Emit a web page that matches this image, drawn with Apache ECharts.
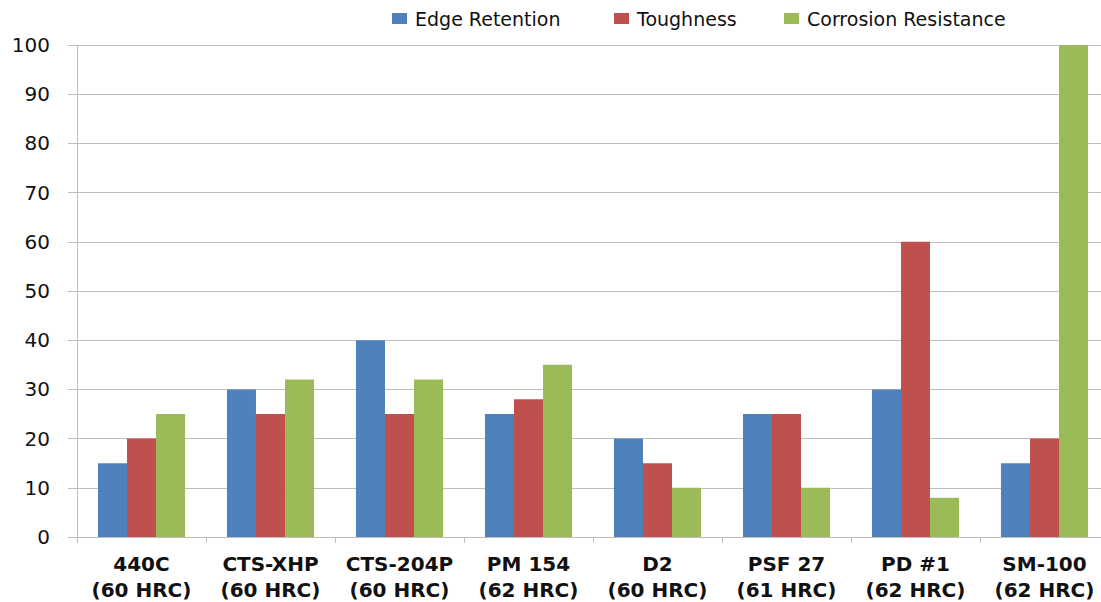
<!DOCTYPE html>
<html>
<head>
<meta charset="utf-8">
<script src="https://cdn.jsdelivr.net/npm/echarts@6/dist/echarts.min.js"></script>
<style>
html,body{margin:0;padding:0;background:#fff;}
#chart{width:1101px;height:602px;}
</style>
</head>
<body>
<div id="chart"></div>
<script>
var categories = ['440C\n(60 HRC)', 'CTS-XHP\n(60 HRC)', 'CTS-204P\n(60 HRC)', 'PM 154\n(62 HRC)', 'D2\n(60 HRC)', 'PSF 27\n(61 HRC)', 'PD #1\n(62 HRC)', 'SM-100\n(62 HRC)'];
var seriesNames = ['Edge Retention', 'Toughness', 'Corrosion Resistance'];
var edgeRetention = [15, 30, 40, 25, 20, 25, 30, 15];
var toughness = [20, 25, 25, 28, 15, 25, 60, 20];
var corrosionResistance = [25, 32, 32, 35, 10, 10, 8, 100];
var yTicks = [0, 10, 20, 30, 40, 50, 60, 70, 80, 90, 100];

var colors = ['#4F81BD', '#C0504D', '#9BBB59'];
var legendLefts = [392, 614, 784];
var font = 'DejaVu Sans';

var chart = echarts.init(document.getElementById('chart'), null, {renderer: 'svg'});
var legends = seriesNames.map(function (n, i) {
  return {
    data: [n], left: legendLefts[i], top: 9, padding: 0,
    itemWidth: 15, itemHeight: 11, itemGap: 0,
    icon: 'rect',
    textStyle: {fontFamily: font, fontSize: 19, color: '#111', lineHeight: 18, padding: [0, 0, 0, 3]}
  };
});
var data = [edgeRetention, toughness, corrosionResistance];
chart.setOption({
  animation: false,
  backgroundColor: '#fff',
  color: colors,
  legend: legends,
  grid: {left: 77, top: 45, width: 1032, height: 492, containLabel: false, outerBoundsMode: 'none'},
  xAxis: {
    type: 'category',
    data: categories,
    axisLine: {show: true, lineStyle: {color: '#BEBEBE', width: 1}},
    axisTick: {show: true, length: 6, lineStyle: {color: '#BEBEBE'}},
    axisLabel: {
      interval: 0, margin: 14,
      fontFamily: font, fontWeight: 'bold', fontSize: 20, color: '#111', lineHeight: 26
    },
    splitLine: {show: false}
  },
  yAxis: {
    type: 'value',
    min: yTicks[0], max: yTicks[yTicks.length - 1], interval: 10,
    axisLine: {show: true, lineStyle: {color: '#BEBEBE', width: 1}},
    axisTick: {show: true, length: 9, lineStyle: {color: '#BEBEBE'}},
    axisLabel: {margin: 27, fontFamily: font, fontSize: 20, color: '#111'},
    splitLine: {show: true, lineStyle: {color: '#BEBEBE', width: 1}}
  },
  series: seriesNames.map(function (n, i) {
    return {
      name: n, type: 'bar', data: data[i],
      barGap: '0%', barCategoryGap: '32.5%',
      itemStyle: {color: colors[i]}
    };
  })
});
</script>
</body>
</html>
